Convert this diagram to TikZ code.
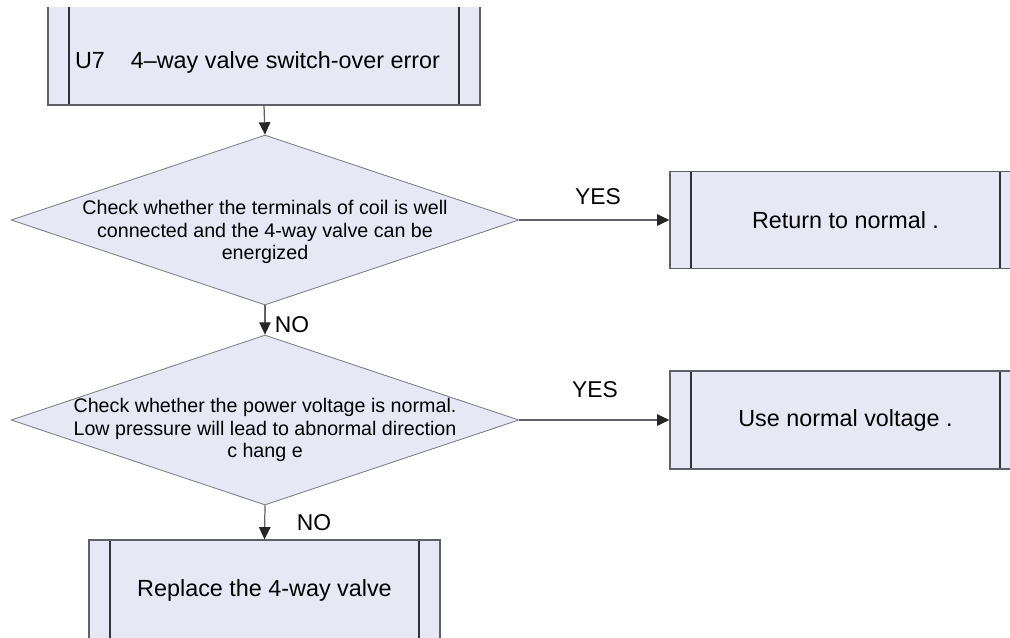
\documentclass[tikz,border=0pt]{standalone}
\usepackage{fontspec}
\setmainfont{Liberation Sans}
\usetikzlibrary{shapes.geometric,arrows.meta}
\definecolor{flowfill}{HTML}{E6E8F6}
\definecolor{flowline}{HTML}{606068}

\tikzset{
  procbox/.style={rectangle,draw=flowline,line width=0.7pt,fill=flowfill,inner sep=0pt,
    font=\fontsize{13.3}{15}\selectfont,
    path picture={
      \draw[black!80,line width=0.7pt] ([xshift=0.42cm]path picture bounding box.north west) -- ([xshift=0.42cm]path picture bounding box.south west);
      \draw[black!80,line width=0.7pt] ([xshift=-0.42cm]path picture bounding box.north east) -- ([xshift=-0.42cm]path picture bounding box.south east);
    }},
  checkbox/.style={diamond,draw=flowline!80,line width=0.5pt,fill=flowfill,inner sep=0pt,
    minimum width=10.16cm,minimum height=3.4cm},
  checktext/.style={align=center,font=\fontsize{11.2}{12.8}\selectfont},
  flowarrow/.style={draw=flowline,line width=0.7pt,-{Triangle[length=7pt,width=6.5pt,color=black!85]}},
  flowlabel/.style={font=\fontsize{13}{15}\selectfont}
}

\begin{document}
\begin{tikzpicture}[x=0.02cm,y=-0.02cm]
  \useasboundingbox (0,0) rectangle (1010,637);
  \begin{scope}
  \clip (0,7) rectangle (1010,637);
  % boxes
  \node[procbox,minimum width=8.64cm,minimum height=2cm] (err) at (264,55)
    {\raisebox{-0.14cm}[\height][\depth]{U7\hspace{0.52cm}4–way valve switch-over error\hspace*{0.26cm}}};
  \node[checkbox,label={[checktext,yshift=-0.24cm]center:Check whether the terminals of coil is well\\connected and the 4-way valve can be\hspace*{1.5cm}\\energized}] (chkcoil) at (265,220) {};
  \node[checkbox,label={[checktext,yshift=-0.2cm]center:Check whether the power voltage is normal.\\Low pressure will lead to abnormal direction\\c hang e}] (chkvolt) at (265,420) {};
  \node[procbox,minimum width=7.02cm,minimum height=1.94cm] (normal) at (845.5,220) {Return to normal .};
  \node[procbox,minimum width=7.02cm,minimum height=1.96cm] (usevolt) at (845.5,420) {Use normal voltage .};
  \node[procbox,minimum width=7.02cm,minimum height=2cm] (replace) at (264.5,590) {Replace the 4-way valve};
  \end{scope}
  % connectors
  \draw[flowarrow] (err.south) -- (chkcoil.north);
  \draw[flowarrow] (chkcoil.south) -- (chkvolt.north);
  \draw[flowarrow] (chkvolt.south) -- (replace.north);
  \draw[flowarrow] (chkcoil.east) -- (normal.west);
  \draw[flowarrow] (chkvolt.east) -- (usevolt.west);
  % labels
  \node[flowlabel] (yes1) at (598,197) {YES};
  \node[flowlabel] (yes2) at (595,390) {YES};
  \node[flowlabel] (no1) at (292,325) {NO};
  \node[flowlabel] (no2) at (314,523) {NO};
\end{tikzpicture}
\end{document}
